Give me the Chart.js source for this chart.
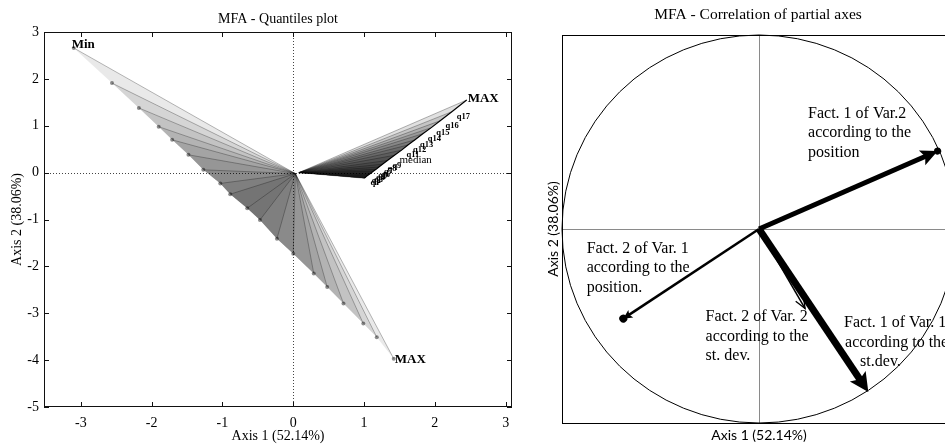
<!DOCTYPE html>
<html>
<head>
<meta charset="utf-8">
<script src="https://cdn.jsdelivr.net/npm/chart.js@4.4.1/dist/chart.umd.min.js"></script>
<style>
  html, body { margin: 0; padding: 0; width: 945px; height: 446px; overflow: hidden; background: #fff; }
  #quantiles { position: absolute; left: 0; top: 0; }
  #correlation { position: absolute; left: 540px; top: 0; }
</style>
</head>
<body>
<canvas id="quantiles" width="525" height="446"></canvas>
<canvas id="correlation" width="430" height="446"></canvas>
<script>
// ---- Quantiles plot -------------------------------------------------------
const quantileLabels = ['Min','q1','q2','q3','q4','q5','q6','q7','q8','q9','median',
                        'q11','q12','q13','q14','q15','q16','q17','MAX'];

// partial points of variable 1 (lower-left cloud)
const var1X = [-3.10,-2.56,-2.18,-1.90,-1.71,-1.48,-1.27,-1.03,-0.89,-0.65,-0.47,
               -0.23, 0.00, 0.29, 0.48, 0.71, 0.99, 1.18, 1.42];
const var1Y = [ 2.66, 1.91, 1.38, 0.98, 0.70, 0.38, 0.06,-0.23,-0.46,-0.76,-1.01,
               -1.41,-1.73,-2.15,-2.44,-2.79,-3.22,-3.51,-3.97];
const var1Centre = [0.03, -0.02];

// partial points of variable 2 (upper-right cloud)
const var2X = [1.00,1.02,1.04,1.07,1.10,1.13,1.17,1.21,1.26,1.33,1.43,
               1.53,1.62,1.72,1.83,1.95,2.08,2.24,2.45];
const var2Y = [-0.12,-0.10,-0.07,-0.04,-0.01,0.03,0.07,0.12,0.18,0.26,0.37,
               0.48,0.59,0.70,0.83,0.96,1.11,1.30,1.55];
const var2Centre = [0.08, 0.00];

const axis1Ticks = [-3,-2,-1,0,1,2,3];
const axis2Ticks = [-5,-4,-3,-2,-1,0,1,2,3];

// ---- Correlation of partial axes -------------------------------------------
const partialAxes = ['Fact. 1 of Var.2 (position)','Fact. 2 of Var. 1 (position)',
                     'Fact. 1 of Var. 1 (st.dev.)','Fact. 2 of Var. 2 (st. dev.)'];
const corrAxis1 = [0.907,-0.689, 0.555, 0.234];
const corrAxis2 = [0.402,-0.462,-0.840,-0.410];

const SERIF = "'Liberation Serif', 'Times New Roman', serif";
Chart.defaults.font.family = SERIF;
Chart.defaults.color = '#000';

// Drawing style of each partial-axis arrow
const arrowStyle = [
  { width: 5,   len: 17, half: 8,  dot: 3.5 },
  { width: 2.5, len: 9,  half: 4.5, dot: 4 },
  { width: 7,   len: 19, half: 9.5 },
  { width: 1.5, len: 11, half: 4.5, open: true }
];

// Text blocks of the correlation circle (anchored in axis units)
const circleNotes = [
  { x: 0.249,  y: 0.596,  lines: [['Fact. 1 of Var.2',0],['according to the',0],['position',0]] },
  { x: -0.875, y: -0.0995, lines: [['Fact. 2 of Var. 1',0],['according to the',0],['position.',0]] },
  { x: -0.271, y: -0.454, lines: [['Fact. 2 of Var. 2',0],['according to the',0],['st. dev.',0]] },
  { x: 0.432,  y: -0.485, lines: [['Fact. 1 of Var. 1',0],['according to the',1],['st.dev.',16]] }
];

function pointsOf(xs, ys) { return xs.map((v, i) => ({ x: v, y: ys[i] })); }

function buildQuantileDatasets() {
  const n = quantileLabels.length;
  const p1 = pointsOf(var1X, var1Y);
  const p2 = pointsOf(var2X, var2Y);
  const c1 = { x: var1Centre[0], y: var1Centre[1] };
  const c2 = { x: var2Centre[0], y: var2Centre[1] };
  const base = { type: 'line', pointRadius: 0, tension: 0, indexAxis: 'y' };
  const none = 'rgba(0,0,0,0)';
  const sets = [];
  // variable 1: quantile intervals nested around the median
  for (let i = 0; i < (n - 1) / 2; i++) {
    sets.push({ ...base, data: [c1, ...p1.slice(i, n - i), c1], fill: 'shape',
      backgroundColor: 'rgba(0,0,0,0.085)', borderColor: none, borderWidth: 0, order: 4 });
  }
  // variable 2: intervals growing from the minimum
  for (let i = 1; i < n; i++) {
    sets.push({ ...base, data: [c2, ...p2.slice(0, i + 1), c2], fill: 'shape',
      backgroundColor: 'rgba(0,0,0,0.12)', borderColor: none, borderWidth: 0, order: 4 });
  }
  // rays from each centre to its quantile points
  p1.forEach(p => sets.push({ ...base, data: [c1, p], borderColor: 'rgba(0,0,0,0.28)', borderWidth: 1, fill: false, order: 3 }));
  p2.forEach(p => sets.push({ ...base, data: [c2, p], borderColor: 'rgba(0,0,0,0.3)', borderWidth: 1, fill: false, order: 3 }));
  // quantile path of variable 2 and point marks of variable 1
  sets.push({ ...base, data: p2, borderColor: '#000', borderWidth: 1.2, fill: false, order: 2 });
  sets.push({ ...base, data: p1, showLine: false, pointRadius: 2,
    pointBackgroundColor: 'rgba(0,0,0,0.45)', pointBorderWidth: 0, order: 2 });
  return sets;
}

// Box, inward tick marks and zero lines
const plotFrame = {
  id: 'plotFrame',
  beforeDatasetsDraw(chart, args, o) {
    const { ctx, chartArea: a, scales: { x, y } } = chart;
    ctx.save();
    ctx.strokeStyle = o.zeroColor;
    ctx.lineWidth = 1;
    ctx.setLineDash(o.zeroDash || []);
    const x0 = Math.round(x.getPixelForValue(0)) + 0.5;
    const y0 = Math.round(y.getPixelForValue(0)) + 0.5;
    ctx.beginPath();
    ctx.moveTo(x0, a.top); ctx.lineTo(x0, a.bottom);
    ctx.moveTo(a.left, y0); ctx.lineTo(a.right, y0);
    ctx.stroke();
    ctx.restore();
  },
  afterDraw(chart, args, o) {
    const { ctx, chartArea: a, scales: { x, y } } = chart;
    ctx.save();
    ctx.strokeStyle = o.frameColor || '#000';
    ctx.lineWidth = 1;
    ctx.strokeRect(Math.round(a.left) + 0.5, Math.round(a.top) + 0.5,
                   Math.round(a.right - a.left) - 1, Math.round(a.bottom - a.top) - 1);
    const L = o.tickLen || 0;
    if (L) {
      ctx.beginPath();
      x.ticks.forEach(t => {
        const px = Math.round(x.getPixelForValue(t.value)) + 0.5;
        ctx.moveTo(px, a.bottom); ctx.lineTo(px, a.bottom - L);
        ctx.moveTo(px, a.top); ctx.lineTo(px, a.top + L);
      });
      y.ticks.forEach(t => {
        const py = Math.round(y.getPixelForValue(t.value)) + 0.5;
        ctx.moveTo(a.left, py); ctx.lineTo(a.left + L, py);
        ctx.moveTo(a.right, py); ctx.lineTo(a.right - L, py);
      });
      ctx.stroke();
    }
    ctx.restore();
  }
};

// Panel title centred over the plotting area
const panelTitle = {
  id: 'panelTitle',
  afterDraw(chart, args, o) {
    const { ctx, chartArea: a } = chart;
    ctx.save();
    ctx.font = o.font;
    ctx.fillStyle = '#000';
    ctx.textAlign = 'center';
    ctx.textBaseline = 'middle';
    ctx.fillText(o.text, (a.left + a.right) / 2 + (o.dx || 0), o.y);
    ctx.restore();
  }
};

// Quantile names next to the points
const quantileText = {
  id: 'quantileText',
  afterDatasetsDraw(chart) {
    const { ctx, scales: { x, y } } = chart;
    const last = quantileLabels.length - 1;
    const px = v => x.getPixelForValue(v);
    const py = v => y.getPixelForValue(v);
    ctx.save();
    ctx.fillStyle = '#000';
    ctx.textBaseline = 'middle';
    ctx.font = 'bold 13px ' + SERIF;
    ctx.fillText(quantileLabels[0], px(var1X[0]) - 2, py(var1Y[0]) - 3);
    ctx.fillText(quantileLabels[last], px(var1X[last]) + 1, py(var1Y[last]) + 1);
    ctx.fillText(quantileLabels[last], px(var2X[last]) + 1, py(var2Y[last]) - 1);
    for (let i = 1; i < last; i++) {
      const name = quantileLabels[i];
      ctx.font = (name === 'median' ? '11px ' : 'bold 8.5px ') + SERIF;
      ctx.fillText(name, px(var2X[i]) + 5, py(var2Y[i]) + 5);
    }
    ctx.restore();
  }
};

new Chart(document.getElementById('quantiles'), {
  type: 'line',
  data: { datasets: buildQuantileDatasets() },
  options: {
    responsive: false,
    animation: false,
    events: [],
    layout: { padding: { top: 32, right: 13, left: 0, bottom: 0 } },
    plugins: {
      legend: { display: false },
      tooltip: { enabled: false },
      plotFrame: { tickLen: 5, zeroColor: '#444', zeroDash: [1, 2], frameColor: '#111' },
      panelTitle: { text: 'MFA - Quantiles plot', y: 19, font: '14px ' + SERIF }
    },
    scales: {
      x: {
        type: 'linear', min: -3.52, max: 3.09,
        afterBuildTicks: s => { s.ticks = axis1Ticks.map(v => ({ value: v })); },
        afterFit: s => { s.height = 39; },
        grid: { display: false, drawTicks: false },
        border: { display: false },
        ticks: { font: { size: 14 }, padding: 8, color: '#000', maxRotation: 0, autoSkip: false },
        title: { display: true, text: 'Axis 1 (52.14%)', font: { size: 14 }, color: '#000', padding: { top: 0, bottom: 1 } }
      },
      y: {
        type: 'linear', min: -5, max: 3,
        afterBuildTicks: s => { s.ticks = axis2Ticks.map(v => ({ value: v })); },
        afterFit: s => { s.width = 44; },
        grid: { display: false, drawTicks: false },
        border: { display: false },
        ticks: { font: { size: 14 }, padding: 5, color: '#000', autoSkip: false },
        title: { display: true, text: 'Axis 2 (38.06%)', font: { size: 14 }, color: '#000', padding: { top: 9, bottom: 0 } }
      }
    }
  },
  plugins: [plotFrame, panelTitle, quantileText]
});

// ---- correlation circle ----------------------------------------------------
const circlePanel = {
  id: 'circlePanel',
  beforeDatasetsDraw(chart) {
    const { ctx, chartArea: a, scales: { x, y } } = chart;
    const cx = x.getPixelForValue(0), cy = y.getPixelForValue(0);
    ctx.save();
    // axes through the origin
    ctx.strokeStyle = '#8a8a8a';
    ctx.lineWidth = 1;
    ctx.beginPath();
    ctx.moveTo(Math.round(cx) + 0.5, a.top); ctx.lineTo(Math.round(cx) + 0.5, a.bottom);
    ctx.moveTo(a.left, Math.round(cy) + 0.5); ctx.lineTo(a.right, Math.round(cy) + 0.5);
    ctx.stroke();
    // text blocks
    ctx.fillStyle = '#000';
    ctx.font = '16px ' + SERIF;
    ctx.textBaseline = 'middle';
    circleNotes.forEach(n => {
      const lx = x.getPixelForValue(n.x), ly = y.getPixelForValue(n.y);
      n.lines.forEach(([t, dx], k) => ctx.fillText(t, lx + dx, ly + k * 19.5));
    });
    // unit circle
    ctx.strokeStyle = '#000';
    ctx.beginPath();
    ctx.ellipse(cx, cy, x.getPixelForValue(1) - cx, cy - y.getPixelForValue(1), 0, 0, Math.PI * 2);
    ctx.stroke();
    ctx.restore();
  },
  afterDraw(chart) {
    const { ctx, chartArea: a } = chart;
    ctx.save();
    ctx.strokeStyle = '#000';
    ctx.lineWidth = 1;
    ctx.strokeRect(Math.round(a.left) + 0.5, Math.round(a.top) + 0.5,
                   Math.round(a.right - a.left), Math.round(a.bottom - a.top));
    ctx.fillStyle = '#000';
    ctx.textAlign = 'center';
    ctx.textBaseline = 'middle';
    ctx.font = '15.5px ' + SERIF;
    ctx.fillText('MFA - Correlation of partial axes', (a.left + a.right) / 2 - 1, 15);
    ctx.font = "14px Lato, 'Open Sans', sans-serif";
    ctx.fillText('Axis 1 (52.14%)', (a.left + a.right) / 2, 435);
    ctx.translate(13, (a.top + a.bottom) / 2);
    ctx.rotate(-Math.PI / 2);
    ctx.fillText('Axis 2 (38.06%)', 0, 0);
    ctx.restore();
  }
};

// Arrow heads; each shaft is clipped just behind its head
function headFrame(chart, index) {
  const pts = chart.getDatasetMeta(index).data;
  const a = pts[0], b = pts[pts.length - 1];
  return { x: b.x, y: b.y, ang: Math.atan2(b.y - a.y, b.x - a.x) };
}
const arrowHeads = {
  id: 'arrowHeads',
  beforeDatasetDraw(chart, args) {
    const h = chart.data.datasets[args.index].head;
    if (!h || h.open) return;
    const f = headFrame(chart, args.index);
    const ctx = chart.ctx;
    ctx.save();
    ctx.beginPath();
    ctx.translate(f.x, f.y);
    ctx.rotate(f.ang);
    ctx.rect(-5000, -5000, 5000 - h.len * 0.7, 10000);
    ctx.setTransform(1, 0, 0, 1, 0, 0);
    ctx.clip();
  },
  afterDatasetDraw(chart, args) {
    const h = chart.data.datasets[args.index].head;
    if (!h) return;
    const ctx = chart.ctx;
    if (!h.open) ctx.restore();
    const f = headFrame(chart, args.index);
    ctx.save();
    ctx.translate(f.x, f.y);
    ctx.rotate(f.ang);
    ctx.fillStyle = '#000';
    ctx.strokeStyle = '#000';
    ctx.lineWidth = 1.3;
    ctx.beginPath();
    if (h.open) {
      ctx.moveTo(-h.len, -h.half); ctx.lineTo(0, 0); ctx.lineTo(-h.len, h.half);
      ctx.stroke();
    } else {
      ctx.moveTo(0, 0); ctx.lineTo(-h.len, -h.half); ctx.lineTo(-h.len * 0.8, 0);
      ctx.lineTo(-h.len, h.half); ctx.closePath();
      ctx.fill();
    }
    if (h.dot) {
      ctx.beginPath();
      ctx.arc(0, 0, h.dot, 0, Math.PI * 2);
      ctx.fill();
    }
    ctx.restore();
  }
};

new Chart(document.getElementById('correlation'), {
  type: 'line',
  data: {
    datasets: corrAxis1.map((v, i) => ({
      label: partialAxes[i],
      data: [{ x: 0, y: 0 }, { x: v, y: corrAxis2[i] }],
      borderColor: '#000',
      borderWidth: arrowStyle[i].width,
      pointRadius: 0,
      fill: false,
      head: arrowStyle[i]
    }))
  },
  options: {
    responsive: false,
    animation: false,
    events: [],
    layout: { padding: { left: 22, top: 35, right: 14, bottom: 23 } },
    plugins: { legend: { display: false }, tooltip: { enabled: false } },
    scales: {
      x: { type: 'linear', min: -1, max: 1, display: false },
      y: { type: 'linear', min: -1, max: 1, display: false }
    }
  },
  plugins: [circlePanel, arrowHeads]
});
</script>
</body>
</html>
